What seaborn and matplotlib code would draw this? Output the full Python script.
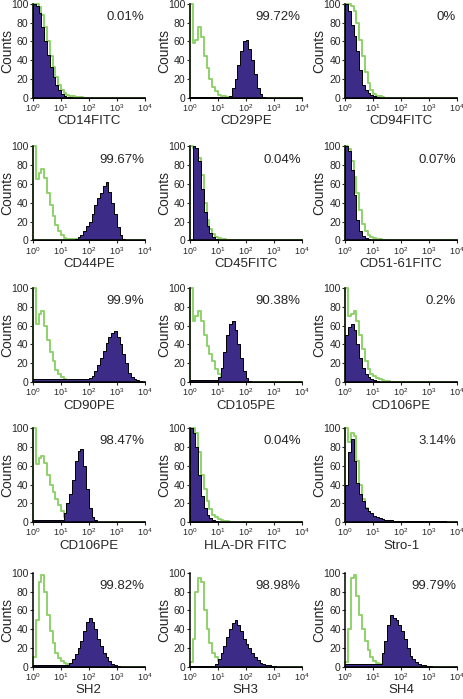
import numpy as np
import pandas as pd
import seaborn as sns
import matplotlib.pyplot as plt

# panel order: row by row, left to right
labels = ["CD14FITC", "CD29PE", "CD94FITC",
          "CD44PE", "CD45FITC", "CD51-61FITC",
          "CD90PE", "CD105PE", "CD106PE",
          "CD106PE", "HLA-DR FITC", "Stro-1",
          "SH2", "SH3", "SH4"]
percents = ["0.01%", "99.72%", "0%",
            "99.67%", "0.04%", "0.07%",
            "99.9%", "90.38%", "0.2%",
            "98.47%", "0.04%", "3.14%",
            "99.82%", "98.98%", "99.79%"]

# counts per 0.1-decade bin, starting at 10^0 (later bins are empty)
# iso = isotype control (green outline), ab = stained sample (purple)
cd14_iso = [100, 100, 97, 88, 75, 60, 45, 33, 22, 14, 8, 5, 3, 2, 1.5, 1, 1, 0.5]
cd14_ab = [100, 98, 90, 75, 60, 46, 33, 22, 14, 8, 4, 2, 1, 0.5]
cd29_iso = [100, 58, 62, 75, 65, 45, 32, 20, 12, 7, 3, 2, 1.5, 1, 1, 1, 1, 1, 1, 1, 1]
cd29_ab = [1, 1, 1, 1, 1, 1, 1, 1, 1, 1, 1, 1, 1, 1, 2, 10, 20, 35, 50, 60, 62, 52, 40, 25, 10, 4, 1]
cd94_iso = [100, 100, 98, 92, 80, 62, 45, 28, 16, 8, 4, 2, 1.5, 1]
cd94_ab = [100, 92, 78, 66, 50, 30, 14, 8, 5, 3, 2, 1]
cd44_iso = [100, 65, 72, 76, 66, 50, 38, 26, 16, 10, 6, 3, 2, 2, 1.5, 1.5, 1, 1, 1, 1, 1]
cd44_ab = [1, 1, 1, 1, 1, 1, 1, 1, 1, 1, 1, 1, 1, 1, 1, 2, 4, 6, 10, 15, 20, 28, 38, 45, 50, 58, 62,
           52, 40, 28, 14, 6, 2, 0.5]
cd45_iso = [100, 98, 95, 88, 70, 40, 22, 12, 7, 4, 3, 2, 1.5, 1]
cd45_ab = [0, 100, 98, 85, 55, 30, 15, 8, 4, 2, 1]
cd51_iso = [100, 97, 85, 68, 50, 32, 18, 10, 6, 4, 3, 2, 1.5, 1]
cd51_ab = [100, 95, 75, 48, 22, 10, 5, 3, 2, 1]
cd90_iso = [100, 62, 72, 75, 60, 45, 32, 22, 13, 8, 5, 3, 2, 1.5, 1, 1, 1, 1, 1, 1]
cd90_ab = [3, 3, 3, 3, 3, 3, 3, 3, 3, 3, 3, 3, 3, 3, 3, 3, 3, 3, 3, 3, 4, 6, 12, 18, 25, 33, 42, 48,
           52, 54, 48, 40, 30, 20, 10, 5, 3, 2, 1]
cd105_iso = [100, 65, 70, 76, 65, 50, 38, 30, 22, 14, 9, 5, 3, 2, 1.5, 1, 1, 1]
cd105_ab = [2, 2, 2, 2, 2, 2, 2, 2, 2, 2, 5, 15, 32, 50, 62, 65, 55, 40, 25, 12, 4, 1]
cd106a_iso = [100, 70, 72, 75, 65, 50, 35, 22, 14, 8, 6, 4, 3, 2, 1.5, 1]
cd106a_ab = [50, 58, 62, 55, 40, 25, 15, 8, 5, 3, 2, 1]
cd106b_iso = [100, 62, 68, 70, 63, 50, 40, 32, 25, 18, 12, 6, 3, 2, 1.5, 1]
cd106b_ab = [2, 2, 2, 2, 2, 2, 2, 2, 2, 2, 2, 10, 20, 30, 45, 65, 76, 78, 60, 35, 15, 5, 2, 0.5]
hla_iso = [100, 100, 95, 75, 50, 35, 22, 14, 8, 5, 3, 2, 1.5, 1]
hla_ab = [100, 95, 80, 50, 28, 15, 8, 4, 2, 1]
stro_iso = [100, 85, 95, 92, 65, 40, 25, 15, 10, 7, 5, 4, 3, 2, 1.5, 1]
stro_ab = [40, 75, 88, 65, 42, 30, 22, 15, 12, 10, 7, 5, 4, 3, 2.5, 2, 2, 1.5, 1.5, 1, 1, 1, 1, 1,
           1, 1, 1, 1, 1, 1, 1, 1, 1, 1, 1, 1]
sh2_iso = [10, 50, 90, 98, 80, 55, 38, 25, 15, 9, 6, 4, 3, 2, 1.5, 1]
sh2_ab = [2, 2, 2, 2, 2, 2, 2, 2, 2, 2, 2, 2, 2, 4, 8, 14, 20, 28, 38, 48, 52, 48, 40, 30, 22, 15,
          10, 6, 3, 2, 0.5]
sh3_iso = [5, 30, 80, 95, 90, 60, 40, 25, 15, 10, 6, 4, 3, 2, 1.5, 1]
sh3_ab = [1, 1, 1, 1, 1, 1, 1, 1, 1, 3, 8, 15, 22, 32, 40, 47, 50, 45, 38, 30, 24, 20, 15, 10, 7, 4,
          3, 2, 1.5, 1, 0.5]
sh4_iso = [5, 40, 95, 98, 75, 55, 40, 28, 18, 10, 6, 4, 3, 2, 1.5, 1]
sh4_ab = [3, 3, 3, 3, 3, 3, 3, 3, 3, 3, 3, 3, 3, 15, 28, 45, 55, 52, 50, 45, 38, 30, 20, 12, 8, 5,
          3, 2, 1.5, 1, 0.5]

iso_sets = [cd14_iso, cd29_iso, cd94_iso, cd44_iso, cd45_iso, cd51_iso, cd90_iso, cd105_iso,
            cd106a_iso, cd106b_iso, hla_iso, stro_iso, sh2_iso, sh3_iso, sh4_iso]
ab_sets = [cd14_ab, cd29_ab, cd94_ab, cd44_ab, cd45_ab, cd51_ab, cd90_ab, cd105_ab,
           cd106a_ab, cd106b_ab, hla_ab, stro_ab, sh2_ab, sh3_ab, sh4_ab]

sns.set_style("white")
plt.rcParams['font.family'] = ['Liberation Sans', 'DejaVu Sans']
plt.rcParams['mathtext.default'] = 'regular'

GREEN = '#8fd16b'
PURPLE = '#3d2b88'

centers = np.arange(40) * 0.1 + 0.05


def to_frame(counts):
    c = np.zeros(len(centers))
    c[:len(counts)] = counts
    return pd.DataFrame({'log_fl': centers, 'count': c})


fig = plt.figure(figsize=(4.64, 6.99), dpi=100)
lefts = [0.071, 0.409, 0.744]
bottoms = [0.860, 0.656, 0.4535, 0.253, 0.046]
w, h = 0.241, 0.1345

for i, lab in enumerate(labels):
    r, c = divmod(i, 3)
    ax = fig.add_axes([lefts[c], bottoms[r], w, h])

    iso = to_frame(iso_sets[i])
    ab = to_frame(ab_sets[i])

    sns.histplot(data=iso, x='log_fl', weights='count', binwidth=0.1, binrange=(0, 4),
                 element='step', fill=True, color=GREEN, linewidth=1.4, ax=ax)
    ax.collections[-1].set_facecolor('none')
    ax.collections[-1].set_edgecolor(GREEN)
    sns.histplot(data=ab, x='log_fl', weights='count', binwidth=0.1, binrange=(0, 4),
                 element='step', fill=True, color=PURPLE, alpha=1, edgecolor='black',
                 linewidth=0.7, ax=ax)
    for coll in ax.collections:
        coll.set_clip_on(False)

    ax.set_xlim(0, 4)
    ax.set_ylim(0, 100)
    ax.set_xticks([0, 1, 2, 3, 4])
    ax.set_xticklabels([f'$10^{k}$' for k in range(5)], fontsize=6.5)
    ax.set_yticks([0, 20, 40, 60, 80, 100])
    ax.set_yticklabels(['0', '20', '40', '60', '80', '100'], fontsize=7.5)
    ax.tick_params(axis='both', direction='out', length=2, width=0.8, pad=1.2,
                   left=True, bottom=True)
    sns.despine(ax=ax)
    for s in ['left', 'bottom']:
        ax.spines[s].set_linewidth(1.1)
        ax.spines[s].set_color('black')
    ax.set_ylabel('Counts', fontsize=10)
    ax.yaxis.set_label_coords(-0.17, 0.5)
    ax.set_xlabel(lab, fontsize=9.5, labelpad=1)
    ax.text(3.97, 86, percents[i], ha='right', va='center', fontsize=9.5)

fig.savefig('out.png', dpi=100)
